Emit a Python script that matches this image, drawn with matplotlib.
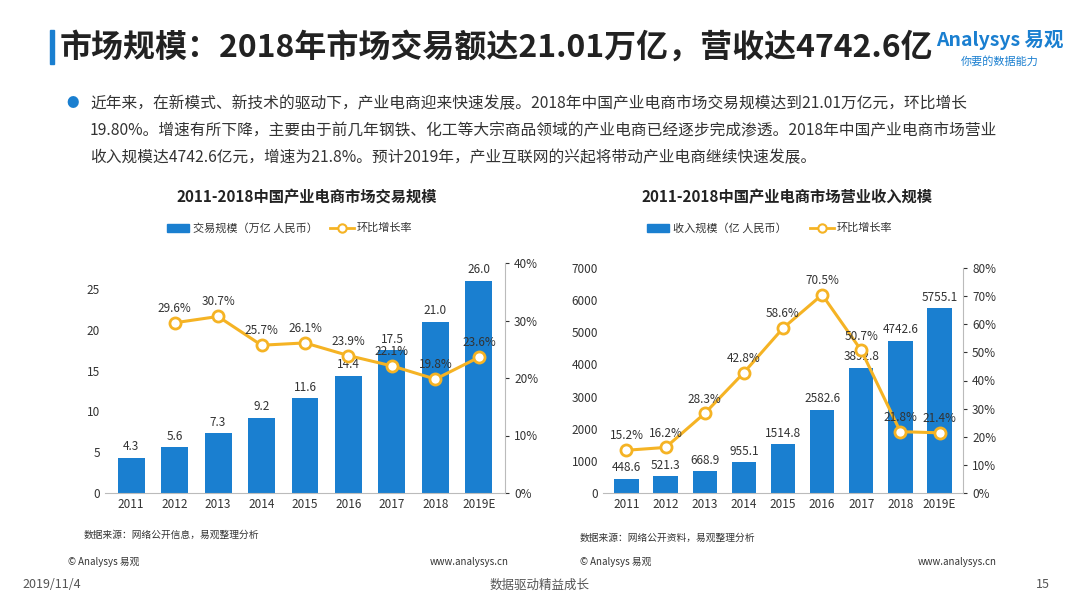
import matplotlib.pyplot as plt
import numpy as np

plt.rcParams['font.family'] = ['Noto Sans CJK SC', 'DejaVu Sans']

years = ["2011", "2012", "2013", "2014", "2015", "2016", "2017", "2018", "2019E"]
trade = [4.3, 5.6, 7.3, 9.2, 11.6, 14.4, 17.5, 21.0, 26.0]
trade_growth = [None, 29.6, 30.7, 25.7, 26.1, 23.9, 22.1, 19.8, 23.6]
revenue = [448.6, 521.3, 668.9, 955.1, 1514.8, 2582.6, 3892.8, 4742.6, 5755.1]
revenue_growth = [15.2, 16.2, 28.3, 42.8, 58.6, 70.5, 50.7, 21.8, 21.4]

BLUE = "#1a7fd0"
ORANGE = "#f5b324"
W, H = 1080, 608

fig = plt.figure(figsize=(10.8, 6.08), dpi=100)


def ax_rect(x0, y0, x1, y1):
    return [x0 / W, 1 - y1 / H, (x1 - x0) / W, (y1 - y0) / H]


def panel(rect, bars, growth, ylim, yticks, rlim, rticks, bar_fmt):
    ax = fig.add_axes(rect)
    x = np.arange(len(years))
    ax.bar(x, bars, 0.62, color=BLUE)
    for xi, v in zip(x, bars):
        ax.text(xi, v + ylim * 0.02, bar_fmt.format(v), ha="center", va="bottom", fontsize=8.5, color="#333")
    ax.set_ylim(0, ylim)
    ax.set_yticks(yticks)
    ax.set_xlim(-0.6, len(years) - 0.4)
    ax.set_xticks(x)
    ax.set_xticklabels(years)
    ax.tick_params(labelsize=8.5, length=0, colors="#333")
    for s in ["top", "right", "left"]:
        ax.spines[s].set_visible(False)
    ax.spines["bottom"].set_color("#bbb")
    ax2 = ax.twinx()
    gx = [xi for xi, g in zip(x, growth) if g is not None]
    gy = [g for g in growth if g is not None]
    ax2.plot(gx, gy, color=ORANGE, lw=2.2, marker="o", ms=8, mfc="white", mec=ORANGE, mew=2)
    for xi, g in zip(gx, gy):
        ax2.text(xi, g + rlim * 0.035, f"{g:.1f}%", ha="center", va="bottom", fontsize=8.5, color="#333")
    ax2.set_ylim(0, rlim)
    ax2.set_yticks(rticks)
    ax2.set_yticklabels([f"{t}%" for t in rticks])
    ax2.tick_params(labelsize=8.5, length=3, colors="#333")
    for s in ["top", "left", "bottom"]:
        ax2.spines[s].set_visible(False)
    ax2.spines["right"].set_color("#bbb")
    return ax


panel(ax_rect(105, 263, 505, 493), trade, trade_growth, 28.2, [0, 5, 10, 15, 20, 25],
      40, [0, 10, 20, 30, 40], "{:.1f}")
panel(ax_rect(603, 268, 963, 493), revenue, revenue_growth, 7000, list(range(0, 7001, 1000)),
      80, list(range(0, 81, 10)), "{:.1f}")

# header
fig.patches.append(plt.Rectangle((50 / W, 1 - 64 / H), 4 / W, 34 / H, color=BLUE, transform=fig.transFigure))
fig.text(60 / W, 1 - 48 / H, "市场规模：2018年市场交易额达21.01万亿，营收达4742.6亿",
         fontsize=23, fontweight="bold", va="center", color="#222")
fig.text(1000 / W, 1 - 40 / H, "Analysys 易观", fontsize=14, color=BLUE, ha="center", va="center", fontweight="bold")
fig.text(1000 / W, 1 - 61 / H, "你要的数据能力", fontsize=8, color=BLUE, ha="center", va="center", style="italic")

fig.text(66 / W, 1 - 104 / H, "●", fontsize=9, color=BLUE, va="center")
body = ["近年来，在新模式、新技术的驱动下，产业电商迎来快速发展。2018年中国产业电商市场交易规模达到21.01万亿元，环比增长",
        "19.80%。增速有所下降，主要由于前几年钢铁、化工等大宗商品领域的产业电商已经逐步完成渗透。2018年中国产业电商市场营业",
        "收入规模达4742.6亿元，增速为21.8%。预计2019年，产业互联网的兴起将带动产业电商继续快速发展。"]
for i, line in enumerate(body):
    fig.text(90 / W, 1 - (104 + 27 * i) / H, line, fontsize=11.3, va="center", color="#333")

# chart titles and legends
for cx, title, lab in [(307, "2011-2018中国产业电商市场交易规模", "交易规模（万亿 人民币）"),
                       (787, "2011-2018中国产业电商市场营业收入规模", "收入规模（亿 人民币）")]:
    fig.text(cx / W, 1 - 197 / H, title, fontsize=11, fontweight="bold", ha="center", va="center", color="#222")
    fig.patches.append(plt.Rectangle(((cx - 140) / W, 1 - 232 / H), 22 / W, 8 / H, color=BLUE, transform=fig.transFigure))
    fig.text((cx - 114) / W, 1 - 228 / H, lab, fontsize=8, va="center", color="#333")
    fig.lines.append(plt.Line2D([(cx + 23) / W, (cx + 47) / W], [1 - 228 / H] * 2, color=ORANGE, lw=2,
                                transform=fig.transFigure))
    fig.lines.append(plt.Line2D([(cx + 35) / W], [1 - 228 / H], color=ORANGE, marker="o", ms=6, mfc="white",
                                mew=1.5, transform=fig.transFigure))
    fig.text((cx + 50) / W, 1 - 228 / H, "环比增长率", fontsize=8, va="center", color="#333")

fig.text(84 / W, 1 - 535 / H, "数据来源：网络公开信息，易观整理分析", fontsize=7, color="#333", va="center")
fig.text(580 / W, 1 - 538 / H, "数据来源：网络公开资料，易观整理分析", fontsize=7, color="#333", va="center")
fig.text(68 / W, 1 - 562 / H, "© Analysys 易观", fontsize=7, color="#333", va="center")
fig.text(430 / W, 1 - 562 / H, "www.analysys.cn", fontsize=7, color="#333", va="center")
fig.text(580 / W, 1 - 562 / H, "© Analysys 易观", fontsize=7, color="#333", va="center")
fig.text(918 / W, 1 - 562 / H, "www.analysys.cn", fontsize=7, color="#333", va="center")
fig.text(22 / W, 1 - 585 / H, "2019/11/4", fontsize=9, color="#555", va="center")
fig.text(540 / W, 1 - 585 / H, "数据驱动精益成长", fontsize=9, color="#555", va="center", ha="center")
fig.text(1050 / W, 1 - 585 / H, "15", fontsize=9, color="#555", va="center", ha="right")

fig.savefig("out.png", dpi=100)
